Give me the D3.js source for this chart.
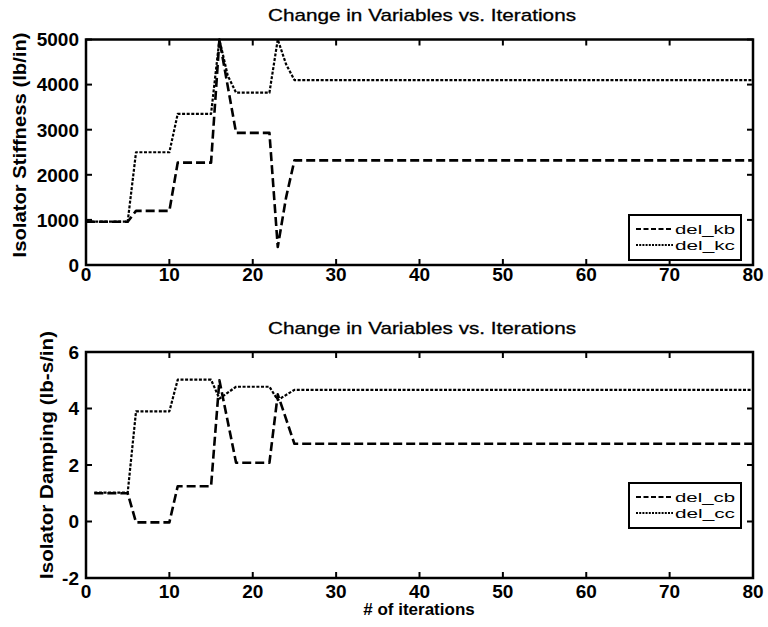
<!DOCTYPE html>
<html>
<head>
<meta charset="utf-8">
<script src="https://cdn.jsdelivr.net/npm/d3@7"></script>
<style>
	body { margin: 0; background: #fff; }
	svg { display: block; font-family: "Liberation Sans", Arial, sans-serif; }
</style>
</head>
<body>
<svg id="chart" width="768" height="627"></svg>
<script>
	// values (breakpoints only, lines are straight between)
	var kbIter = [0, 5, 6, 10, 11, 15, 16, 18, 22, 23, 24, 25, 80];
	var kbVal = [960, 960, 1200, 1200, 2270, 2270, 5000, 2930, 2930, 400, 1500, 2320, 2320];
	var kcIter = [0, 5, 6, 10, 11, 15, 16, 17, 18, 22, 23, 24, 25, 80];
	var kcVal = [960, 960, 2500, 2500, 3350, 3350, 5000, 4200, 3820, 3820, 5000, 4450, 4100, 4100];

	var cbIter = [1, 5, 6, 10, 11, 15, 16, 18, 22, 23, 25, 80];
	var cbVal = [1.0, 1.0, -0.03, -0.03, 1.25, 1.25, 5.0, 2.08, 2.08, 4.5, 2.75, 2.75];
	var ccIter = [1, 5, 6, 10, 11, 15, 16, 18, 22, 23, 25, 80];
	var ccVal = [1.02, 1.02, 3.9, 3.9, 5.02, 5.02, 4.35, 4.77, 4.77, 4.3, 4.66, 4.66];

	var xTicks = [0, 10, 20, 30, 40, 50, 60, 70, 80];
	var stiffTicks = [0, 1000, 2000, 3000, 4000, 5000];
	var dampTicks = [-2, 0, 2, 4, 6];

	var title = "Change in Variables vs. Iterations";

	var svg = d3.select("#chart");

	var dashed = "9,4";
	var dotted = "3,1.6";

	function zip(xs, ys) {
		return xs.map(function(x, i) {
			return { x: x, y: ys[i] };
		});
	}

	var drawPanel = function(opt) {
		var x = d3.scaleLinear().domain([0, 80]).range([86, 753]);
		var y = d3.scaleLinear().domain(opt.yDomain).range([opt.bottom, opt.top]);
		var g = svg.append("g");

		// title
		g.append("text")
			.attr("x", 422)
			.attr("y", opt.titleY)
			.attr("text-anchor", "middle")
			.attr("font-size", 17)
			.attr("stroke", "#000")
			.attr("stroke-width", 0.3)
			.attr("textLength", 308)
			.attr("lengthAdjust", "spacingAndGlyphs")
			.text(title);

		// inward ticks on all four sides
		var tick = 6;
		xTicks.forEach(function(t) {
			g.append("line").attr("x1", x(t)).attr("x2", x(t)).attr("y1", opt.bottom).attr("y2", opt.bottom - tick)
				.attr("stroke", "#000").attr("stroke-width", 2);
			g.append("line").attr("x1", x(t)).attr("x2", x(t)).attr("y1", opt.top).attr("y2", opt.top + tick)
				.attr("stroke", "#000").attr("stroke-width", 2);
			g.append("text")
				.attr("x", x(t))
				.attr("y", opt.bottom + opt.xLabelOff)
				.attr("text-anchor", "middle")
				.attr("font-size", 19)
				.attr("font-weight", "bold")
				.text(t);
		});
		opt.yTicks.forEach(function(t) {
			g.append("line").attr("x1", 86).attr("x2", 86 + tick).attr("y1", y(t)).attr("y2", y(t))
				.attr("stroke", "#000").attr("stroke-width", 2);
			g.append("line").attr("x1", 753).attr("x2", 753 - tick).attr("y1", y(t)).attr("y2", y(t))
				.attr("stroke", "#000").attr("stroke-width", 2);
			g.append("text")
				.attr("x", 79)
				.attr("y", y(t))
				.attr("dy", "0.36em")
				.attr("text-anchor", "end")
				.attr("font-size", 19)
				.attr("font-weight", "bold")
				.text(t);
		});

		// box
		g.append("rect")
			.attr("x", 86)
			.attr("y", opt.top)
			.attr("width", 753 - 86)
			.attr("height", opt.bottom - opt.top)
			.attr("fill", "none")
			.attr("stroke", "#000")
			.attr("stroke-width", 2.5);

		// y label
		g.append("text")
			.attr("transform", "translate(" + opt.yLabelX + "," + opt.yLabelY + ") rotate(-90)")
			.attr("text-anchor", "middle")
			.attr("font-size", 18)
			.attr("font-weight", "bold")
			.attr("textLength", opt.yLabelLen)
			.attr("lengthAdjust", "spacingAndGlyphs")
			.text(opt.yLabel);

		var line = d3.line()
			.x(function(d) { return x(d.x); })
			.y(function(d) { return y(d.y); });

		opt.series.forEach(function(s) {
			g.append("path")
				.datum(s.data)
				.attr("d", line)
				.attr("fill", "none")
				.attr("stroke", "#000")
				.attr("stroke-width", s.width)
				.attr("stroke-dasharray", s.dash)
				.attr("stroke-linejoin", "round");
		});

		// legend
		var lg = g.append("g");
		lg.append("rect")
			.attr("x", 629)
			.attr("y", opt.legendTop)
			.attr("width", 112)
			.attr("height", 45)
			.attr("fill", "#fff")
			.attr("stroke", "#000")
			.attr("stroke-width", 2);
		opt.series.forEach(function(s, i) {
			var ly = opt.legendTop + 14 + i * 16;
			lg.append("line")
				.attr("x1", 636).attr("x2", 673)
				.attr("y1", ly).attr("y2", ly)
				.attr("stroke", "#000")
				.attr("stroke-width", 2)
				.attr("stroke-dasharray", i === 0 ? "5,2.5" : "2,1.2");
			lg.append("text")
				.attr("x", 675)
				.attr("y", ly + 5)
				.attr("font-size", 13.5)
				.attr("textLength", 60)
				.attr("lengthAdjust", "spacingAndGlyphs")
				.text(s.name);
		});

		if (opt.xLabel) {
			g.append("text")
				.attr("x", 419)
				.attr("y", 615)
				.attr("text-anchor", "middle")
				.attr("font-size", 17)
				.attr("font-weight", "bold")
				.text(opt.xLabel);
		}
	};

	drawPanel({
		top: 39.5,
		bottom: 265,
		yDomain: [0, 5000],
		yTicks: stiffTicks,
		titleY: 21,
		xLabelOff: 16,
		yLabel: "Isolator Stiffness (lb/in)",
		yLabelX: 26,
		yLabelY: 145,
		yLabelLen: 225,
		legendTop: 215,
		series: [
			{ name: "del_kb", data: zip(kbIter, kbVal), dash: dashed, width: 2.6 },
			{ name: "del_kc", data: zip(kcIter, kcVal), dash: dotted, width: 2.2 }
		]
	});

	drawPanel({
		top: 352,
		bottom: 578,
		yDomain: [-2, 6],
		yTicks: dampTicks,
		titleY: 334,
		xLabelOff: 20,
		yLabel: "Isolator Damping (lb-s/in)",
		yLabelX: 53,
		yLabelY: 455,
		yLabelLen: 248,
		legendTop: 483,
		xLabel: "# of iterations",
		series: [
			{ name: "del_cb", data: zip(cbIter, cbVal), dash: dashed, width: 2.6 },
			{ name: "del_cc", data: zip(ccIter, ccVal), dash: dotted, width: 2.2 }
		]
	});
</script>
</body>
</html>
